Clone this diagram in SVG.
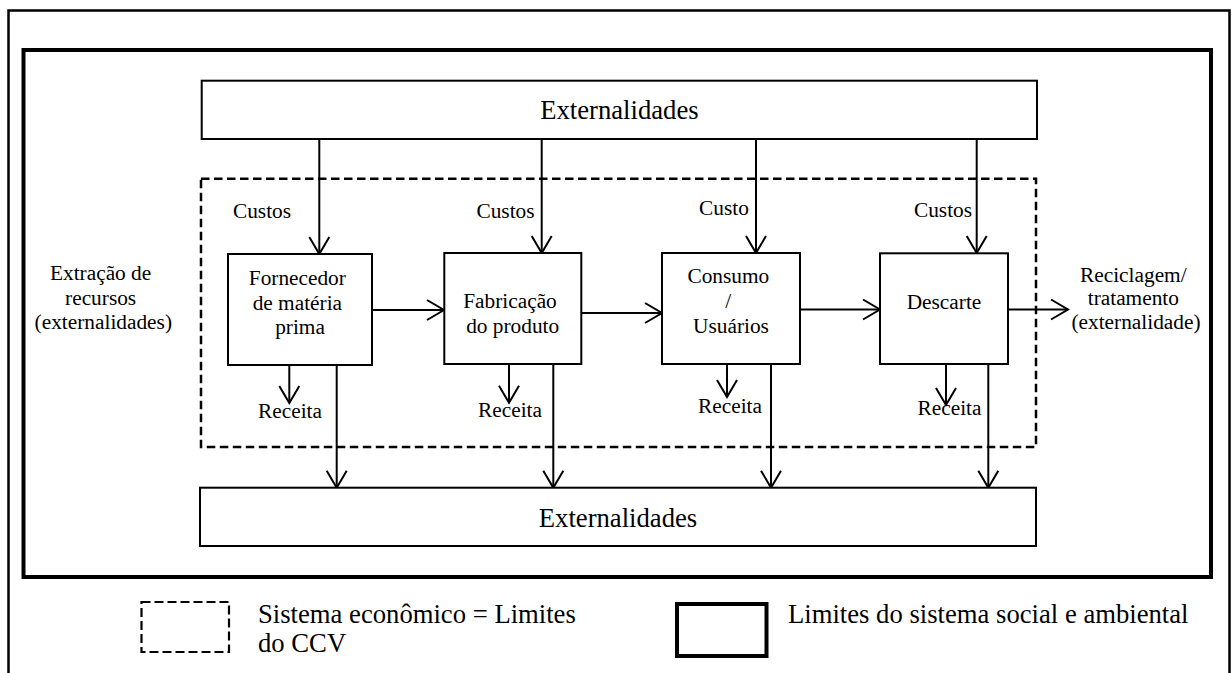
<svg xmlns="http://www.w3.org/2000/svg" width="1232" height="673" viewBox="0 0 1232 673">
  <style>
    .t { font-family: "Liberation Serif", "Times New Roman", serif; fill: #000; }
    .lg { font-size: 26.67px; }
    .sm { font-size: 21.33px; }
    .box { fill: #fff; stroke: #000; stroke-width: 2; }
    .dash { fill: none; stroke: #000; stroke-width: 2.5; stroke-dasharray: 8.5 4.5; }
    .thick { fill: none; stroke: #000; stroke-width: 4; }
    .outer { fill: none; stroke: #000; stroke-width: 2.5; }
    .con { fill: none; stroke: #000; stroke-width: 2; }
    .arr { marker-end: url(#head); }
  </style>
  <defs>
    <!-- open V arrowhead, tip at the end of the line -->
    <marker id="head" markerUnits="userSpaceOnUse" markerWidth="24" markerHeight="24" viewBox="-20 -12 24 24" refX="0" refY="0" orient="auto" overflow="visible">
      <path d="M-17,-10 L0,0 L-17,10" fill="none" stroke="#000" stroke-width="2" stroke-linejoin="miter"/>
    </marker>
  </defs>

  <rect width="1232" height="673" fill="#fff"/>

  <!-- page frame, open at the bottom -->
  <path id="page-frame" class="outer" d="M8.5,673 V10.5 H1229.5 V673"/>

  <!-- social and environmental system boundary -->
  <rect id="social-boundary" class="thick" x="23.5" y="50" width="1187.5" height="527"/>

  <!-- economic system boundary (LCC limits) -->
  <rect id="economic-boundary" class="dash" x="201" y="178.7" width="835" height="268.3"/>

  <g id="connectors">
    <!-- costs entering each stage -->
    <line class="con arr" x1="319.3" y1="139" x2="319.3" y2="254"/>
    <line class="con arr" x1="541.7" y1="139" x2="541.7" y2="253"/>
    <line class="con arr" x1="756" y1="139" x2="756" y2="253"/>
    <line class="con arr" x1="976.7" y1="139" x2="976.7" y2="253"/>
    <!-- flow between stages -->
    <line class="con arr" x1="372" y1="310" x2="444" y2="310"/>
    <line class="con arr" x1="581" y1="313" x2="662" y2="313"/>
    <line class="con arr" x1="800" y1="309.5" x2="880" y2="309.5"/>
    <line class="con arr" x1="1008" y1="309.5" x2="1068" y2="309.5"/>
    <!-- revenue -->
    <line class="con arr" x1="289.3" y1="365" x2="289.3" y2="403"/>
    <line class="con arr" x1="509" y1="364" x2="509" y2="402.7"/>
    <line class="con arr" x1="727" y1="364" x2="727" y2="397"/>
    <line class="con arr" x1="946" y1="364" x2="946" y2="405"/>
    <!-- externalities leaving each stage -->
    <line class="con arr" x1="336.7" y1="365" x2="336.7" y2="487.7"/>
    <line class="con arr" x1="553.3" y1="364" x2="553.3" y2="487.7"/>
    <line class="con arr" x1="771" y1="364" x2="771" y2="487.7"/>
    <line class="con arr" x1="988.3" y1="364" x2="988.3" y2="487.7"/>
  </g>

  <g id="externalidades-top">
    <rect class="box" x="201.7" y="80.7" width="835.3" height="58.3"/>
    <text class="t lg" x="619.4" y="119" text-anchor="middle">Externalidades</text>
  </g>

  <g id="externalidades-bottom">
    <rect class="box" x="200" y="487.7" width="836" height="58.3"/>
    <text class="t lg" x="618" y="526.5" text-anchor="middle">Externalidades</text>
  </g>

  <g id="fornecedor">
    <rect class="box" x="228" y="254" width="144" height="111"/>
    <text class="t sm" text-anchor="middle">
      <tspan x="300" y="285">Fornecedor</tspan>
      <tspan x="300" y="310">de matéria</tspan>
      <tspan x="300" y="334">prima</tspan>
    </text>
  </g>

  <g id="fabricacao">
    <rect class="box" x="444.3" y="253" width="137" height="111"/>
    <text class="t sm" text-anchor="middle">
      <tspan x="512.7" y="308.3">Fabricação</tspan>
      <tspan x="512.7" y="332.7">do produto</tspan>
    </text>
  </g>

  <g id="consumo">
    <rect class="box" x="662" y="253" width="138" height="111"/>
    <text class="t sm" text-anchor="middle">
      <tspan x="731" y="283">Consumo</tspan>
      <tspan x="731" y="308">/</tspan>
      <tspan x="731" y="332.7">Usuários</tspan>
    </text>
  </g>

  <g id="descarte">
    <rect class="box" x="880" y="253.3" width="128" height="110.7"/>
    <text class="t sm" x="944" y="309" text-anchor="middle">Descarte</text>
  </g>

  <g id="extracao">
    <text class="t sm" text-anchor="middle">
      <tspan x="103.3" y="280">Extração de</tspan>
      <tspan x="103.3" y="305">recursos</tspan>
      <tspan x="103.3" y="328.5">(externalidades)</tspan>
    </text>
  </g>

  <g id="reciclagem">
    <text class="t sm" text-anchor="middle">
      <tspan x="1136" y="281.7">Reciclagem/</tspan>
      <tspan x="1136" y="305">tratamento</tspan>
      <tspan x="1136" y="328.5">(externalidade)</tspan>
    </text>
  </g>

  <g id="cost-labels">
    <text class="t sm" x="262" y="217.5" text-anchor="middle">Custos</text>
    <text class="t sm" x="505.5" y="217.7" text-anchor="middle">Custos</text>
    <text class="t sm" x="724" y="215" text-anchor="middle">Custo</text>
    <text class="t sm" x="943" y="216.5" text-anchor="middle">Custos</text>
  </g>

  <g id="revenue-labels">
    <text class="t sm" x="290" y="418" text-anchor="middle">Receita</text>
    <text class="t sm" x="510" y="416.7" text-anchor="middle">Receita</text>
    <text class="t sm" x="730" y="413.3" text-anchor="middle">Receita</text>
    <text class="t sm" x="949.5" y="415" text-anchor="middle">Receita</text>
  </g>

  <g id="legend">
    <rect class="dash" x="141.5" y="602" width="87.5" height="50" style="stroke-width:2.2; stroke-dasharray: 9 4"/>
    <text class="t lg">
      <tspan x="258" y="623.3">Sistema econômico = Limites</tspan>
      <tspan x="258" y="651.7">do CCV</tspan>
    </text>
    <rect class="thick" x="677" y="604" width="89.5" height="52"/>
    <text class="t lg" x="788" y="623">Limites do sistema social e ambiental</text>
  </g>
</svg>
